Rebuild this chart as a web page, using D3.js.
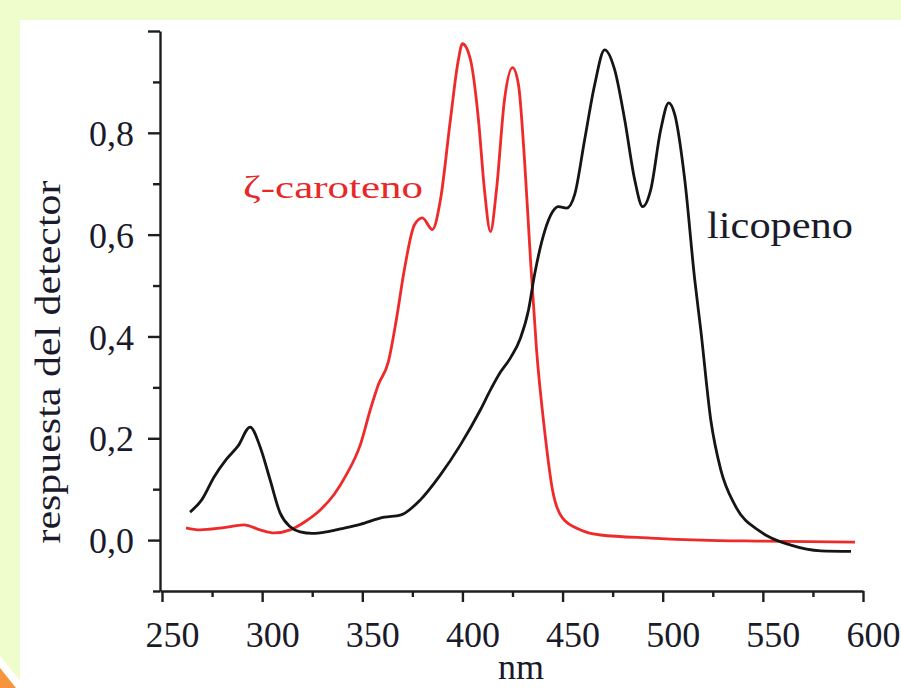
<!DOCTYPE html>
<html>
<head>
<meta charset="utf-8">
<script src="https://cdn.jsdelivr.net/npm/d3@7"></script>
<style>
  body { margin: 0; background: #effccb; }
  svg { display: block; }
  text { font-family: "Liberation Serif", "Times New Roman", serif; }
</style>
</head>
<body>
<div id="chart"></div>
<script>
// espectros (nm, respuesta del detector)
const licopenoNm = [264, 270, 276, 282, 288, 294, 299, 304, 309, 314, 319, 325, 332, 339, 349, 361, 369, 379, 389, 399, 409, 414, 419, 424, 429, 433, 436, 441, 445, 448, 452, 456, 461, 466, 471, 476, 481, 486, 490, 494, 499, 503, 506, 511, 516, 519, 524, 529, 536, 549, 564, 579, 594];
const licopenoResp = [0.055, 0.08, 0.124, 0.158, 0.185, 0.222, 0.183, 0.118, 0.053, 0.026, 0.016, 0.013, 0.016, 0.022, 0.031, 0.045, 0.049, 0.079, 0.128, 0.187, 0.256, 0.295, 0.33, 0.358, 0.397, 0.452, 0.521, 0.606, 0.645, 0.655, 0.652, 0.678, 0.786, 0.894, 0.963, 0.924, 0.826, 0.708, 0.655, 0.688, 0.806, 0.859, 0.836, 0.708, 0.511, 0.413, 0.236, 0.138, 0.069, 0.016, -0.01, -0.021, -0.022];

const carotenoNm = [262, 269, 280, 291, 299, 306, 314, 321, 329, 336, 342, 349, 354, 358, 363, 367, 371, 376, 380, 385, 389, 394, 398, 400, 404, 408, 411, 414, 417, 421, 425, 428, 431, 434, 437, 441, 445, 450, 459, 469, 494, 519, 548, 596];
const carotenoResp = [0.024, 0.02, 0.024, 0.03, 0.02, 0.014, 0.02, 0.035, 0.059, 0.09, 0.128, 0.187, 0.256, 0.305, 0.35, 0.433, 0.531, 0.619, 0.633, 0.61, 0.668, 0.826, 0.944, 0.975, 0.944, 0.826, 0.688, 0.606, 0.688, 0.865, 0.928, 0.894, 0.747, 0.55, 0.374, 0.216, 0.098, 0.043, 0.02, 0.01, 0.004, 0.0, -0.002, -0.004];

const xMajor = [250, 300, 350, 400, 450, 500, 550, 600];
const xMinor = [275, 325, 375, 425, 475, 525, 575];
const yMajor = [0, 0.2, 0.4, 0.6, 0.8, 1.0];
const yMinor = [-0.1, 0.1, 0.3, 0.5, 0.7, 0.9];
const yLabels = [0, 0.2, 0.4, 0.6, 0.8];

const width = 901, height = 688;

const svg = d3.select("#chart").append("svg")
  .attr("width", width)
  .attr("height", height);

// fondo de la diapositiva
svg.append("rect").attr("width", width).attr("height", height).attr("fill", "#effccb");
svg.append("rect").attr("x", 20).attr("y", 20).attr("width", width - 20).attr("height", height - 20).attr("fill", "#ffffff");
svg.append("polygon").attr("points", "0,656 26,688 0,688").attr("fill", "#ffffff");
svg.append("polygon").attr("points", "0,668 16,688 0,688").attr("fill", "#f7943c");

const x = d3.scaleLinear().domain([249, 600]).range([160, 863]);
const y = d3.scaleLinear().domain([-0.1, 1.0]).range([591, 31]);

const fmt = d => d3.format(".1f")(d).replace(".", ",");

// eje x
const gx = svg.append("g").attr("transform", "translate(0,591)");
gx.call(d3.axisBottom(x).tickValues(xMajor).tickSize(11).tickSizeOuter(0));
gx.append("g").call(d3.axisBottom(x).tickValues(xMinor).tickSize(6).tickSizeOuter(0).tickFormat(""))
  .select(".domain").remove();

// eje y
const gy = svg.append("g").attr("transform", "translate(160,0)");
gy.call(d3.axisLeft(y).tickValues(yMajor).tickSize(12).tickSizeOuter(0)
  .tickFormat(d => yLabels.includes(d) ? fmt(d) : ""));
gy.append("g").call(d3.axisLeft(y).tickValues(yMinor).tickSize(7).tickSizeOuter(0).tickFormat(""))
  .select(".domain").remove();

svg.selectAll(".domain, .tick line")
  .attr("stroke", "#1e1e1e")
  .attr("stroke-width", 2.4);

gx.selectAll(".tick text")
  .attr("y", 56).attr("dy", null).attr("dx", 10)
  .attr("font-size", 36)
  .attr("font-family", "Liberation Serif, serif")
  .attr("fill", "#1a1a2a");

gy.selectAll(".tick text")
  .attr("x", -26).attr("dy", "0.35em")
  .attr("font-size", 36)
  .attr("font-family", "Liberation Serif, serif")
  .attr("fill", "#1a1a2a");

// curvas
const line = d3.line()
  .x(d => x(d[0]))
  .y(d => y(d[1]))
  .curve(d3.curveMonotoneX);

const licopeno = licopenoNm.map((n, i) => [n, licopenoResp[i]]);
const caroteno = carotenoNm.map((n, i) => [n, carotenoResp[i]]);

svg.append("path").datum(caroteno)
  .attr("d", line)
  .attr("fill", "none")
  .attr("stroke", "#ee2a2a")
  .attr("stroke-width", 2.8);

svg.append("path").datum(licopeno)
  .attr("d", line)
  .attr("fill", "none")
  .attr("stroke", "#151515")
  .attr("stroke-width", 2.8);

// textos
svg.append("text")
  .attr("x", 243).attr("y", 198)
  .attr("font-size", 32)
  .attr("textLength", 180).attr("lengthAdjust", "spacingAndGlyphs")
  .attr("fill", "#e82828")
  .text("ζ-caroteno");

svg.append("text")
  .attr("x", 707).attr("y", 238)
  .attr("font-size", 38)
  .attr("textLength", 146).attr("lengthAdjust", "spacingAndGlyphs")
  .attr("fill", "#1a1a2a")
  .text("licopeno");

svg.append("text")
  .attr("transform", "translate(60,362) rotate(-90)")
  .attr("text-anchor", "middle")
  .attr("font-size", 36)
  .attr("textLength", 363).attr("lengthAdjust", "spacingAndGlyphs")
  .attr("fill", "#1a1a2a")
  .text("respuesta del detector");

svg.append("text")
  .attr("x", 521).attr("y", 679)
  .attr("text-anchor", "middle")
  .attr("font-size", 36)
  .attr("fill", "#1a1a2a")
  .text("nm");
</script>
</body>
</html>
